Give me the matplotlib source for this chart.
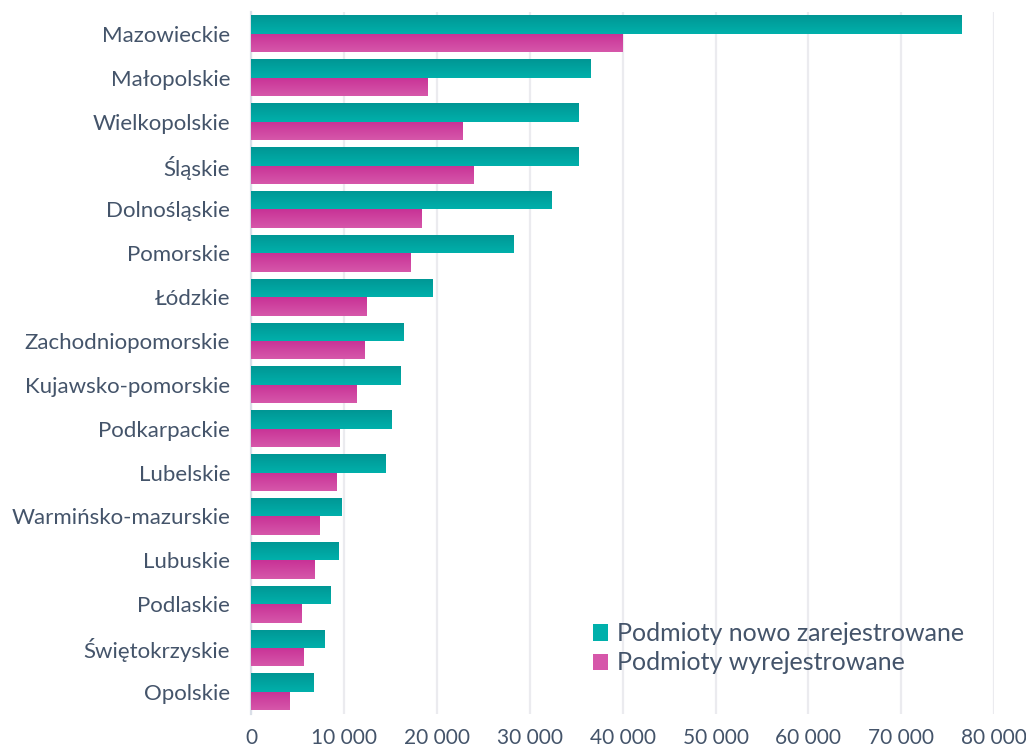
import numpy as np
import matplotlib
matplotlib.use("Agg")
import matplotlib.pyplot as plt
from matplotlib.ticker import FuncFormatter
from matplotlib.colors import LinearSegmentedColormap

# Regions, top to bottom
regions = [
    "Mazowieckie", "Małopolskie", "Wielkopolskie", "Śląskie", "Dolnośląskie",
    "Pomorskie", "Łódzkie", "Zachodniopomorskie", "Kujawsko-pomorskie",
    "Podkarpackie", "Lubelskie", "Warmińsko-mazurskie", "Lubuskie",
    "Podlaskie", "Świętokrzyskie", "Opolskie",
]
registered = [76500, 36500, 35300, 35200, 32300, 28200, 19500, 16400, 16100,
              15100, 14500, 9700, 9400, 8600, 7900, 6700]
deregistered = [40000, 19000, 22800, 23900, 18300, 17200, 12400, 12200, 11400,
                9500, 9200, 7400, 6800, 5400, 5600, 4100]
series_names = ["Podmioty nowo zarejestrowane", "Podmioty wyrejestrowane"]
x_ticks = [0, 10000, 20000, 30000, 40000, 50000, 60000, 70000, 80000]

TEXT = "#44546A"
TEAL = ("#009694", "#00B0AB")
PINK = ("#C83296", "#D657AA")

plt.rcParams["font.family"] = ["Lato", "DejaVu Sans"]

fig = plt.figure(figsize=(10.26, 7.49), dpi=100)
ax = fig.add_axes([0.2446, 0.047, 0.7245, 0.937])

y = np.arange(len(regions))
h = 0.42
bars1 = ax.barh(y - h / 2, registered, height=h, color=TEAL[1], label=series_names[0], zorder=2)
bars2 = ax.barh(y + h / 2, deregistered, height=h, color=PINK[1], label=series_names[1], zorder=2)


def add_gradient(bars, cols):
    cmap = LinearSegmentedColormap.from_list("g", list(cols))
    grad = np.linspace(0, 1, 64).reshape(-1, 1)
    for b in bars:
        x0, y0 = b.get_x(), b.get_y()
        w, hh = b.get_width(), b.get_height()
        # y axis inverted: top of bar is y0
        im = ax.imshow(grad, cmap=cmap, aspect="auto", origin="upper",
                       extent=(x0, x0 + w, y0 + hh, y0), zorder=3,
                       interpolation="bilinear")
        im.set_clip_path(b)


add_gradient(bars1, TEAL)
add_gradient(bars2, PINK)

ax.set_ylim(len(regions) - 0.5, -0.5)
ax.set_xlim(0, 80000)
ax.set_aspect("auto")
ax.set_yticks(y)
ax.set_yticklabels(regions)
ax.set_xticks(x_ticks)
ax.xaxis.set_major_formatter(FuncFormatter(lambda v, p: f"{int(v):,}".replace(",", " ")))

ax.tick_params(axis="both", length=0, labelsize=16, colors=TEXT)
ax.tick_params(axis="x", pad=10, labelsize=15)
ax.tick_params(axis="y", pad=15)

ax.grid(axis="x", color="#EBEBEF", linewidth=1.6, zorder=0)
ax.set_axisbelow(True)
for s in ["top", "right", "bottom"]:
    ax.spines[s].set_visible(False)
ax.spines["left"].set_color("#DADFE8")
ax.spines["left"].set_linewidth(1.6)

leg = ax.legend(loc="lower right", bbox_to_anchor=(0.99, 0.024), frameon=False,
                fontsize=18, handlelength=0.62, handleheight=0.62,
                handletextpad=0.35, labelspacing=0.25, labelcolor=TEXT)

fig.savefig("out.png", dpi=100)
